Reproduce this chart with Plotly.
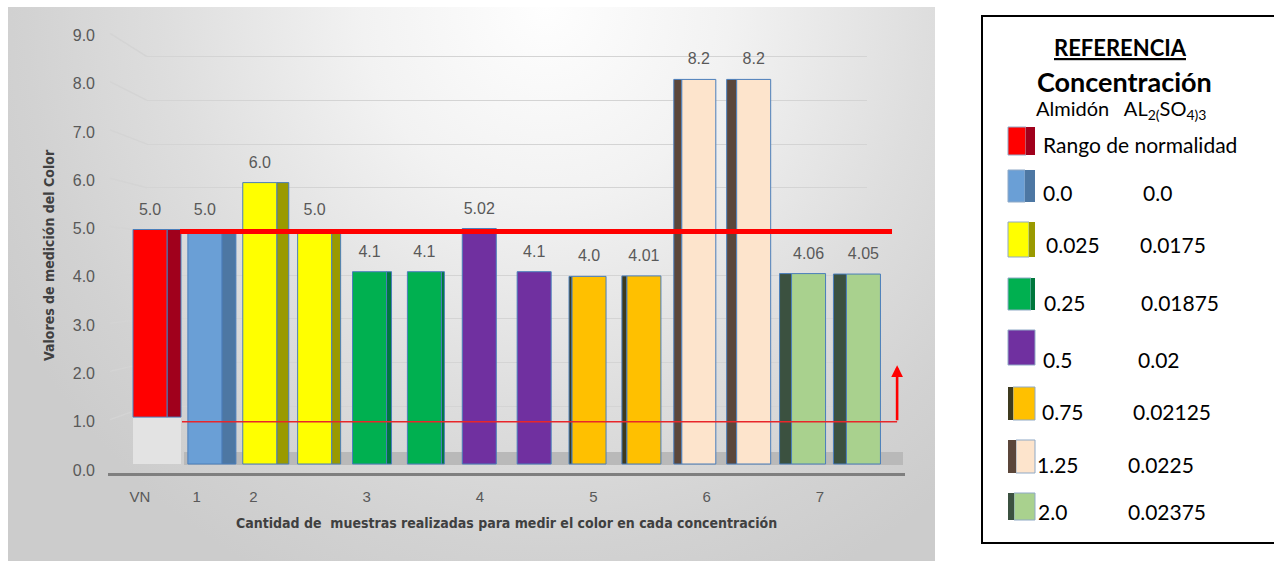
import plotly.graph_objects as go

W, H = 1274, 563

# ---------------- data ----------------
categorias = ["VN", "1", "2", "", "3", "", "4", "", "5", "", "6", "", "7", ""]
valores_txt = ["5.0", "5.0", "6.0", "5.0", "4.1", "4.1", "5.02", "4.1",
               "4.0", "4.01", "8.2", "8.2", "4.06", "4.05"]
valores = [float(v) for v in valores_txt]
grupo = [0, 1, 2, 2, 3, 3, 4, 4, 5, 5, 6, 6, 7, 7]
rango_min = 1.0
rango_max = 5.0
y_ticks = [0, 1, 2, 3, 4, 5, 6, 7, 8, 9]

leyenda_almidon = ["0.0", "0.025", "0.25", "0.5", "0.75", "1.25", "2.0"]
leyenda_sulfato = ["0.0", "0.0175", "0.01875", "0.02", "0.02125", "0.0225", "0.02375"]

# ---------------- styles ----------------
color_frente = ["#ff0000", "#6a9fd6", "#ffff00", "#00b050", "#7030a0",
                "#ffc000", "#fde4cc", "#a9d18e"]
color_lado = ["#a0001c", "#4d77a3", "#9a9a00", "#00783c", "#5a2786",
              "#3d3a1e", "#5b463a", "#3b5140"]
lado_px = [14, 14, 12, 9, 5, 3, 0, 0, 3, 5, 8, 10, 12, 13]
FRENTE_PX = 34
GRIS_TXT = "#595959"
FONT_NUM = "Liberation Sans, Arial, sans-serif"
FONT_TIT = "Liberation Sans Narrow, DejaVu Sans Condensed, Arial Narrow, sans-serif"
FONT_LEY = "Lato, Carlito, Calibri, sans-serif"


def fx(p):
    return p / W


def fy(p):
    return 1 - p / H


def rangos(ox, sx, oy, sy, dom_x, dom_y):
    """Axis ranges so value v sits at pixel o + s*v (y grows upward)."""
    xr = [(dom_x[0] - ox) / sx, (dom_x[1] - ox) / sx]
    yr = [(oy - dom_y[1]) / sy, (oy - dom_y[0]) / sy]
    return xr, yr


def nota(x, y, text, size, family=FONT_LEY, color="#000000", xanchor="center", **kw):
    return dict(x=fx(x), y=fy(y), xref="paper", yref="paper", showarrow=False,
                xanchor=xanchor, yanchor="middle", text=text,
                font=dict(family=family, size=size, color=color), **kw)


PANEL_X, PANEL_Y = (8, 935), (7, 561)
PLOT_X, PLOT_Y = (108, 905), (7, 473)
# bar plane
SLOT = 54.88
bx_r, by_r = rangos(150, SLOT, 464, 46.9, PLOT_X, PLOT_Y)
# front plane (axis labels)
fx_r, fy_r = rangos(140, 56.67, 470, 48.3, PLOT_X, PLOT_Y)
# back wall
WALL_X, WALL_Y = (147, 867), (35, 450)
WALL_STEP = 43.7
_, wy_r = rangos(140, 56.67, WALL_Y[1], WALL_STEP, PLOT_X, PLOT_Y)

fig = go.Figure()

# ---- panel background (radial grey gradient, lightest near the top) ----
cx, cy, hw, hh = 0.58, 1.0, 0.66, 1.15
fig.add_trace(go.Scatter(
    x=[cx - hw, cx + hw, cx + hw, cx - hw, cx - hw],
    y=[cy - hh, cy - hh, cy + hh, cy + hh, cy - hh],
    mode="lines", fill="toself", line=dict(width=0),
    fillgradient=dict(type="radial",
                      colorscale=[[0, "#fefefe"], [0.3, "#f2f2f2"],
                                  [0.62, "#dedede"], [0.85, "#d2d2d2"],
                                  [1, "#cccccc"]]),
    hoverinfo="skip", showlegend=False, xaxis="x", yaxis="y"))

# side-wall gridlines (front edge -> back wall)
pw, ph = PANEL_X[1] - PANEL_X[0], PANEL_Y[1] - PANEL_Y[0]
sx, sy = [], []
for v in y_ticks[1:]:
    sx += [(110 - PANEL_X[0]) / pw, (WALL_X[0] - PANEL_X[0]) / pw, None]
    sy += [(PANEL_Y[1] - (470 - 48.3 * v - 2)) / ph,
           (PANEL_Y[1] - (WALL_Y[1] - WALL_STEP * v)) / ph, None]
fig.add_trace(go.Scatter(x=sx, y=sy, mode="lines",
                         line=dict(color="#d4d4d4", width=1.4),
                         hoverinfo="skip", showlegend=False,
                         xaxis="x", yaxis="y"))

# invisible point so the back-wall axes get drawn
fig.add_trace(go.Scatter(x=[0.5], y=[0], mode="markers", marker=dict(opacity=0),
                         hoverinfo="skip", showlegend=False,
                         xaxis="x2", yaxis="y2"))

# ---- bars (bar plane) ----
FR = FRENTE_PX / SLOT
xs = list(range(len(valores)))
bases = [rango_min if i == 0 else 0 for i in xs]
alturas = [valores[i] - bases[i] for i in xs]

# lower segment of the reference range bar
fig.add_trace(go.Bar(
    x=[0], y=[rango_min], base=[0], offset=-FR / 2, width=FR + lado_px[0] / SLOT,
    marker=dict(color="#e3e3e3", line=dict(width=0)),
    hoverinfo="skip", showlegend=False, xaxis="x3", yaxis="y3"))

# side faces
lx, ly, lb, lo, lw, lc = [], [], [], [], [], []
for i in xs:
    if lado_px[i] == 0:
        continue
    w = lado_px[i] / SLOT
    lx.append(i)
    ly.append(alturas[i])
    lb.append(bases[i])
    lw.append(w)
    lo.append(FR / 2 if i < 6 else -FR / 2 - w)
    lc.append(color_lado[grupo[i]])
fig.add_trace(go.Bar(
    x=lx, y=ly, base=lb, offset=lo, width=lw,
    marker=dict(color=lc, line=dict(color="#4a7ebb", width=1)),
    hoverinfo="skip", showlegend=False, xaxis="x3", yaxis="y3"))

# front faces
fig.add_trace(go.Bar(
    x=xs, y=alturas, base=bases, offset=-FR / 2, width=FR,
    marker=dict(color=[color_frente[g] for g in grupo],
                line=dict(color="#4a7ebb", width=1)),
    hoverinfo="skip", showlegend=False, xaxis="x3", yaxis="y3"))

# value labels
fig.add_trace(go.Scatter(
    x=xs, y=valores, text=valores_txt, mode="markers+text",
    marker=dict(size=16, opacity=0), textposition="top center",
    textfont=dict(family=FONT_NUM, size=16, color=GRIS_TXT),
    cliponaxis=False, hoverinfo="skip", showlegend=False,
    xaxis="x3", yaxis="y3"))

# ---- normal range: upper limit on the back wall, lower limit in front ----
fig.add_trace(go.Scatter(
    x=[0.706, 13.27], y=[rango_max, rango_max], mode="lines",
    line=dict(color="#ff0000", width=5), hoverinfo="skip",
    showlegend=False, xaxis="x5", yaxis="y5"))
fig.add_trace(go.Scatter(
    x=[0.741, 13.36], y=[rango_min, rango_min], mode="lines",
    line=dict(color="#e8262a", width=1.6), hoverinfo="skip",
    showlegend=False, xaxis="x4", yaxis="y4"))

annotations = [
    dict(x=13.36, y=2.17, ax=13.36, ay=rango_min, xref="x4", yref="y4",
         axref="x4", ayref="y4", showarrow=True, arrowhead=2, arrowsize=0.9,
         arrowwidth=2.6, arrowcolor="#ff0000", text=""),
    nota(49, 255, "<b>Valores de medición del Color</b>", 14, FONT_TIT,
         "#404040", textangle=-90),
    nota(506, 523,
         "<b>Cantidad de  muestras realizadas para medir el color en cada concentración</b>",
         14, FONT_TIT, "#404040"),
]

# floor band
shapes = [dict(type="rect", xref="x3", yref="y3", layer="below",
               x0=(184 - 150) / SLOT, x1=(903 - 150) / SLOT,
               y0=-0.02, y1=0.256, fillcolor="#b9b9b9", line=dict(width=0))]

# ---- reference box ----
shapes.append(dict(type="rect", xref="paper", yref="paper", layer="above",
                   x0=fx(982), x1=fx(1278), y0=fy(543), y1=fy(16),
                   line=dict(color="#000000", width=2), fillcolor="rgba(0,0,0,0)"))

annotations += [
    nota(1120, 48, "<b><u>REFERENCIA</u></b>", 22),
    nota(1124, 81, "<b>Concentración</b>", 27),
    nota(1034, 109, "Almidón   AL<sub>2(</sub>SO<sub>4)3</sub>", 20, xanchor="left"),
]

sw_top = [127, 170, 222, 278, 330, 387, 440, 493]
sw_h = [28, 32, 35, 32, 35, 33, 33, 27]
sw_lado = [9, 10, 6, 4, 0, 5, 8, 6]
txt_y = [145, 192, 245, 302, 359, 411, 464, 511]
col1_x = [1041, 1041, 1044, 1042, 1041, 1040, 1035, 1036]
col2_x = [None, 1141, 1138, 1139, 1136, 1131, 1126, 1126]
SW_X0, SW_W = 1008, 27

for k in range(8):
    t, b = sw_top[k], sw_top[k] + sw_h[k]
    s = sw_lado[k]
    if k <= 3:
        fr_x, ld_x = (SW_X0, SW_X0 + SW_W - s), (SW_X0 + SW_W - s, SW_X0 + SW_W)
    else:
        fr_x, ld_x = (SW_X0 + s, SW_X0 + SW_W), (SW_X0, SW_X0 + s)
    shapes.append(dict(type="rect", xref="paper", yref="paper", layer="above",
                       x0=fx(fr_x[0]), x1=fx(fr_x[1]), y0=fy(b), y1=fy(t),
                       fillcolor=color_frente[k],
                       line=dict(color="#8fa9c6", width=1)))
    if s:
        shapes.append(dict(type="rect", xref="paper", yref="paper", layer="above",
                           x0=fx(ld_x[0]), x1=fx(ld_x[1]), y0=fy(b), y1=fy(t),
                           fillcolor=color_lado[k], line=dict(width=0)))
    if k == 0:
        etiqueta = "Rango de normalidad"
    else:
        etiqueta = leyenda_almidon[k - 1]
        annotations.append(nota(col2_x[k], txt_y[k], leyenda_sulfato[k - 1], 21,
                                xanchor="left"))
    annotations.append(nota(col1_x[k], txt_y[k], etiqueta, 21, xanchor="left"))

hidden = dict(visible=False, automargin=False)
fig.update_layout(
    template="none",
    width=W, height=H, margin=dict(l=0, r=0, t=0, b=0, autoexpand=False),
    paper_bgcolor="#ffffff", plot_bgcolor="rgba(0,0,0,0)",
    showlegend=False, barmode="overlay",
    xaxis=dict(domain=[fx(PANEL_X[0]), fx(PANEL_X[1])], range=[0, 1],
               anchor="y", **hidden),
    yaxis=dict(domain=[fy(PANEL_Y[1]), fy(PANEL_Y[0])], range=[0, 1],
               anchor="x", **hidden),
    xaxis2=dict(domain=[fx(WALL_X[0]), fx(WALL_X[1])], range=[0, 1],
                anchor="y2", **hidden),
    yaxis2=dict(domain=[fy(WALL_Y[1]), fy(WALL_Y[0])],
                range=[0, (WALL_Y[1] - WALL_Y[0]) / WALL_STEP], anchor="x2",
                tickvals=y_ticks[1:], showticklabels=False, ticks="",
                showgrid=True, gridcolor="#d4d4d4", gridwidth=1.4,
                zeroline=False, showline=False, automargin=False),
    xaxis3=dict(domain=[fx(PLOT_X[0]), fx(PLOT_X[1])], range=bx_r,
                anchor="y3", **hidden),
    yaxis3=dict(domain=[fy(PLOT_Y[1]), fy(PLOT_Y[0])], range=by_r,
                anchor="x3", **hidden),
    xaxis4=dict(domain=[fx(PLOT_X[0]), fx(PLOT_X[1])], range=fx_r, anchor="y4",
                tickvals=[i for i, c in enumerate(categorias) if c],
                ticktext=[c for c in categorias if c],
                showgrid=False, zeroline=False, showline=True,
                linecolor="#7f7f7f", linewidth=3, ticks="",
                ticklabelstandoff=8, automargin=False,
                tickfont=dict(family=FONT_NUM, size=15, color=GRIS_TXT)),
    yaxis4=dict(domain=[fy(PLOT_Y[1]), fy(PLOT_Y[0])], range=fy_r, anchor="x4",
                tickvals=y_ticks, tickformat=".1f",
                showgrid=False, zeroline=False, showline=False, ticks="",
                ticklabelstandoff=12, automargin=False,
                tickfont=dict(family=FONT_NUM, size=16, color=GRIS_TXT)),
    xaxis5=dict(domain=[fx(PLOT_X[0]), fx(PLOT_X[1])], range=fx_r,
                anchor="y5", **hidden),
    yaxis5=dict(domain=[fy(PLOT_Y[1]), fy(PLOT_Y[0])], range=wy_r,
                anchor="x5", **hidden),
    shapes=shapes, annotations=annotations,
)

fig.write_html("out.html")
